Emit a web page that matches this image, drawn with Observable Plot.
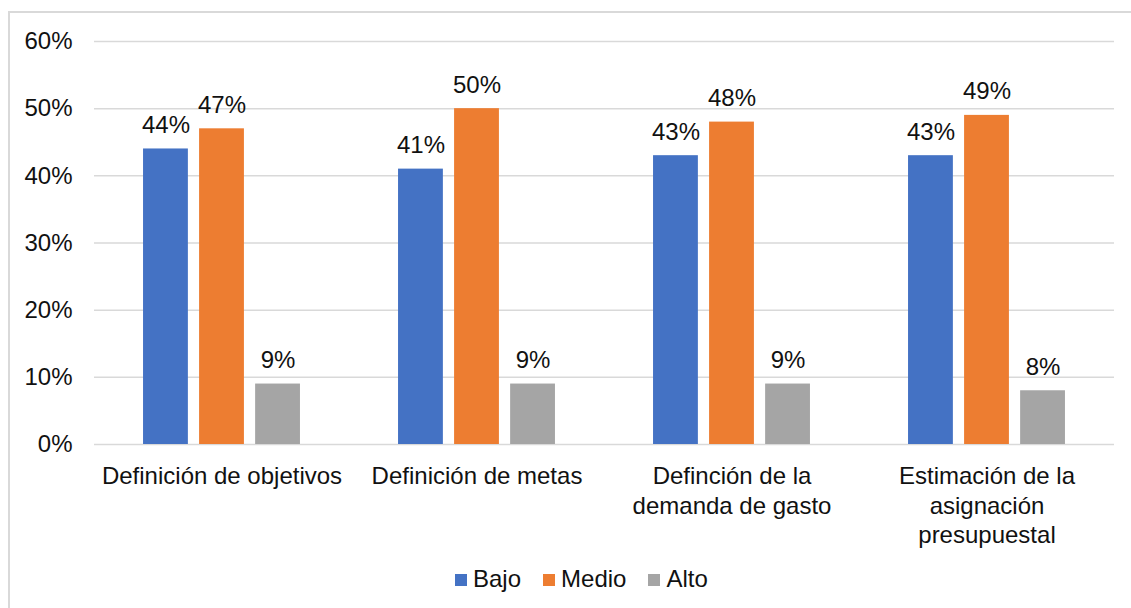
<!DOCTYPE html>
<html>
<head>
<meta charset="utf-8">
<script src="https://cdn.jsdelivr.net/npm/d3@7"></script>
<script src="https://cdn.jsdelivr.net/npm/@observablehq/plot@0.6"></script>
<style>
  html, body { margin: 0; padding: 0; background: #fff; overflow: hidden; }
  body { width: 1131px; height: 608px; position: relative; font-family: "Liberation Sans", Arial, sans-serif; }
  #frame { position: absolute; left: 8px; top: 11px; width: 1300px; height: 800px; border-left: 2px solid #d9d9d9; border-top: 2px solid #d9d9d9; box-sizing: border-box; }
  #chart { position: absolute; left: 0; top: 0; }
  #legend { position: absolute; top: 565px; left: 455px; display: flex; align-items: center; font-size: 24px; color: #111; }
  .item { display: flex; align-items: center; margin-right: 22px; }
  .sw { width: 12px; height: 12px; margin-right: 6px; margin-top: 2px; }
</style>
</head>
<body>
<div id="frame"></div>
<div id="chart"></div>
<div id="legend"></div>
<script>
const categories = [
  "Definición de objetivos",
  "Definición de metas",
  "Definción de la demanda de gasto",
  "Estimación de la asignación presupuestal"
];
const categoryLabels = [
  "Definición de objetivos",
  "Definición de metas",
  "Definción de la\ndemanda de gasto",
  "Estimación de la\nasignación\npresupuestal"
];
const series = ["Bajo", "Medio", "Alto"];
const colors = ["#4472c4", "#ed7d31", "#a5a5a5"];
const bajo = [44, 41, 43, 43];
const medio = [47, 50, 48, 49];
const alto = [9, 9, 9, 8];
const yTicks = [0, 10, 20, 30, 40, 50, 60];

const seriesValues = [bajo, medio, alto];
const data = [];
categories.forEach((c, i) => {
  series.forEach((s, j) => data.push({cat: c, series: s, value: seriesValues[j][i]}));
});
const labelOf = new Map(categories.map((c, i) => [c, categoryLabels[i]]));

const chart = Plot.plot({
  width: 1131,
  height: 550,
  marginLeft: 94,
  marginRight: 17,
  marginTop: 41,
  marginBottom: 106,
  style: {fontFamily: "Liberation Sans, Arial, sans-serif", fontSize: "24px", color: "#111", background: "transparent"},
  fx: {domain: categories, padding: 0, round: false, label: null},
  x: {domain: series, paddingInner: 0.2, paddingOuter: 0.875, round: false, axis: null},
  y: {domain: [0, 60], label: null},
  color: {domain: series, range: colors},
  marks: [
    Plot.gridY(yTicks, {stroke: "#d9d9d9", strokeOpacity: 1, strokeWidth: 1.5}),
    Plot.barY(data, {fx: "cat", x: "series", y: "value", fill: "series"}),
    Plot.text(data, {fx: "cat", x: "series", y: "value", text: d => d.value + "%", lineAnchor: "bottom", dy: -16, fill: "#111", fontSize: 24}),
    Plot.axisY(yTicks, {tickSize: 0, tickPadding: 22, tickFormat: d => d + "%", fontSize: 24, label: null}),
    Plot.axisFx({anchor: "bottom", tickSize: 0, tickPadding: 19, tickFormat: d => labelOf.get(d), fontSize: 24, lineHeight: 1.22, label: null})
  ]
});
document.getElementById("chart").appendChild(chart);

const legend = document.getElementById("legend");
series.forEach((s, i) => {
  const item = document.createElement("div");
  item.className = "item";
  const sw = document.createElement("span");
  sw.className = "sw";
  sw.style.background = colors[i];
  const t = document.createElement("span");
  t.textContent = s;
  item.appendChild(sw);
  item.appendChild(t);
  legend.appendChild(item);
});
</script>
</body>
</html>
